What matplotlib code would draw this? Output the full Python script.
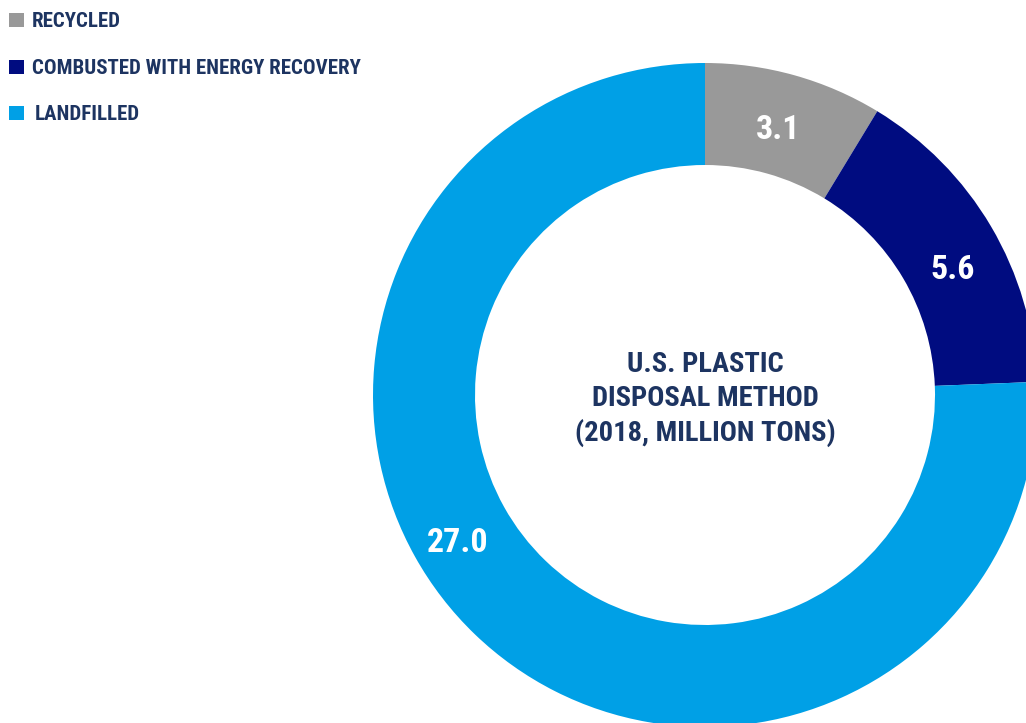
import matplotlib.pyplot as plt
from matplotlib.patches import Rectangle

# data
methods = ["RECYCLED", "COMBUSTED WITH ENERGY RECOVERY", "LANDFILLED"]
tons = [3.1, 5.6, 27.0]
colors = ["#999999", "#000c80", "#00a0e6"]
title_lines = ["U.S. PLASTIC", "DISPOSAL METHOD", "(2018, MILLION TONS)"]

W, H = 1026, 723
txt_col = "#1d3461"
fam = ["Roboto Condensed", "Roboto", "DejaVu Sans"]

fig = plt.figure(figsize=(W / 100, H / 100), dpi=100)
ax = fig.add_axes([0, 0, 1, 1])

cx, cy, r_out, r_in = 705, H - 395, 332, 230
wedges, _ = ax.pie(tons, colors=colors, startangle=90, counterclock=False,
                   center=(cx, cy), radius=r_out,
                   wedgeprops=dict(width=r_out - r_in, linewidth=0))
ax.set_xlim(0, W)
ax.set_ylim(0, H)
ax.axis("off")

# value labels
lab_pos = [(778, 130), (953, 270), (458, 543)]
for v, (x, y) in zip(tons, lab_pos):
    ax.text(x, H - y, f"{v:.1f}", color="white", fontsize=24.5, fontweight="bold",
            family=fam, fontstretch="condensed", ha="center", va="center")

# centre title
for i, line in enumerate(title_lines):
    ax.text(cx, H - (365 + 34 * i), line, color=txt_col, fontsize=20.5,
            fontweight="bold", family=fam, fontstretch="condensed",
            ha="center", va="center")

# legend
for i, (m, c) in enumerate(zip(methods, colors)):
    y = 20 + 46.5 * i
    ax.add_patch(Rectangle((9, H - y - 7), 15, 14, color=c, lw=0))
    ax.text(32 if i < 2 else 35, H - y - 1.5, m, color=txt_col, fontsize=15,
            fontweight="bold", family=fam, fontstretch="condensed",
            ha="left", va="center")

fig.savefig("out.png", dpi=100)
